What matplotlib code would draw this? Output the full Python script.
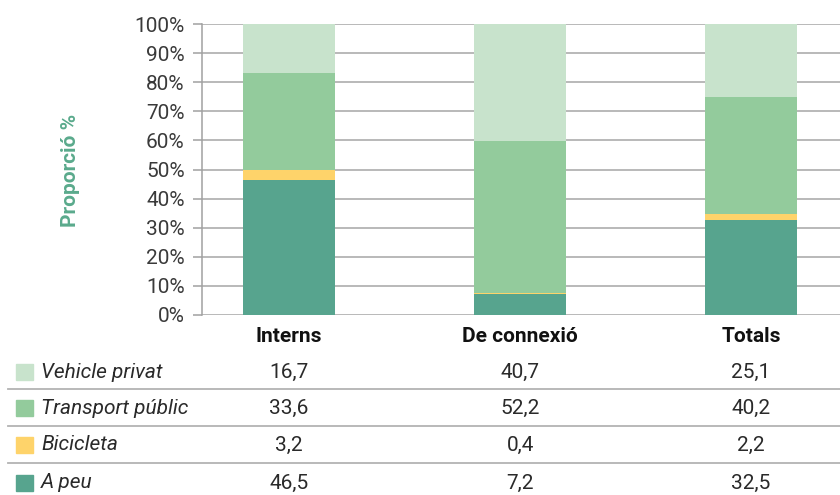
import matplotlib
matplotlib.use('Agg')
import matplotlib.pyplot as plt
import matplotlib.transforms as mtransforms
from matplotlib.patches import Rectangle
import numpy as np

plt.rcParams['font.family'] = ['Roboto', 'DejaVu Sans']

categories = ['Interns', 'De connexió', 'Totals']
modes = ['Vehicle privat', 'Transport públic', 'Bicicleta', 'A peu']
a_peu = [46.5, 7.2, 32.5]
bicicleta = [3.2, 0.4, 2.2]
transport_public = [33.6, 52.2, 40.2]
vehicle_privat = [16.7, 40.7, 25.1]
colors = {'Vehicle privat': '#c8e3cc', 'Transport públic': '#93cb9c',
          'Bicicleta': '#fed36a', 'A peu': '#57a48e'}

W, H = 840, 495
fs = 15
fig = plt.figure(figsize=(W / 100, H / 100), dpi=100)
ax = fig.add_axes([202 / W, 1 - 315 / H, (W - 202) / W, (315 - 24) / H])

x = np.arange(len(categories))
bw = 0.4
bottom = np.zeros(3)
for name, vals in [('A peu', a_peu), ('Bicicleta', bicicleta),
                   ('Transport públic', transport_public), ('Vehicle privat', vehicle_privat)]:
    ax.bar(x, vals, bw, bottom=bottom, color=colors[name], zorder=3)
    bottom += np.array(vals)

ax.set_xlim(-0.377, 2.385)
ax.set_ylim(0, 100)
ax.set_yticks(np.arange(0, 101, 10))
ax.set_yticklabels([f'{v}%' for v in range(0, 101, 10)], fontsize=fs, color='#3a3a3a')
ax.yaxis.grid(True, color='#b3b3b3', linewidth=1.3, zorder=0)
ax.set_axisbelow(True)
ax.tick_params(axis='y', length=6.5, width=1.1, color='#a0a0a0', pad=6)
ax.set_xticks(x)
ax.set_xticklabels(categories, fontsize=fs, fontweight='bold', color='#111111')
ax.tick_params(axis='x', length=0, pad=9)
for s in ['top', 'right', 'bottom']:
    ax.spines[s].set_visible(False)
ax.spines['left'].set_color('#a0a0a0')
ax.spines['left'].set_linewidth(1.1)

fig.text(70 / W, 1 - 170 / H, 'Proporció %', rotation=90, ha='center', va='center',
         fontsize=fs, fontweight='bold', color='#5aaa8c')

# data table below the chart
trans = mtransforms.blended_transform_factory(ax.transData, fig.transFigure)
row_y = [372, 408, 445, 483]
rows = [('Vehicle privat', vehicle_privat), ('Transport públic', transport_public),
        ('Bicicleta', bicicleta), ('A peu', a_peu)]
for (name, vals), yp in zip(rows, row_y):
    yf = 1 - yp / H
    fig.patches.append(Rectangle((16 / W, 1 - (yp + 8) / H), 17 / W, 16 / H,
                                 transform=fig.transFigure, color=colors[name]))
    fig.text(41 / W, yf, name, ha='left', va='center', fontsize=fs,
             style='italic', color='#2a2a2a')
    for xi, v in zip(x, vals):
        fig.text(xi, yf, f'{v:.1f}'.replace('.', ','), transform=trans,
                 ha='center', va='center', fontsize=fs, color='#2a2a2a')

for yl in [389, 426, 463]:
    fig.add_artist(plt.Line2D([8 / W, 1], [1 - yl / H] * 2, transform=fig.transFigure,
                              color='#b3b3b3', linewidth=1.3))

fig.savefig('out.png', dpi=100)
